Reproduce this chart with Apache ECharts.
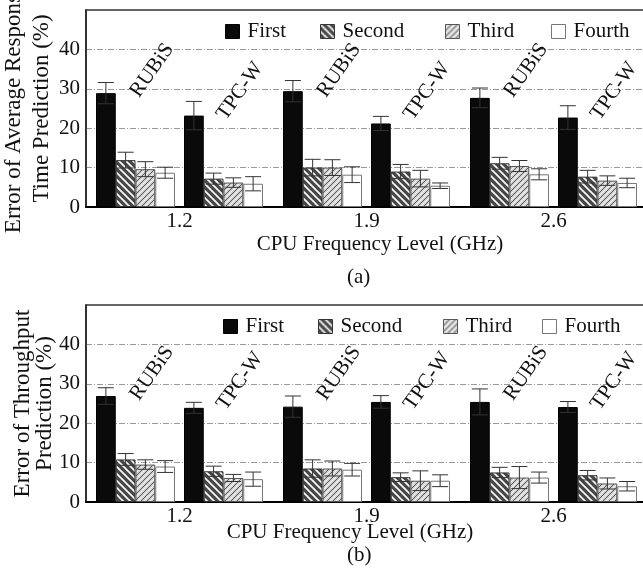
<!DOCTYPE html>
<html><head><meta charset="utf-8">
<script src="https://cdn.jsdelivr.net/npm/echarts@6/dist/echarts.min.js"></script>
<style>html,body{margin:0;padding:0;background:#fff}#c{width:643px;height:584px}</style>
</head><body><div id="c"></div>
<script>
// ---------------- DATA ----------------
const categories = ['1.2', '1.9', '2.6'];
const methods = ['First', 'Second', 'Third', 'Fourth'];
const benchmarks = ['RUBiS', 'TPC-W'];
const yTicks = [0, 10, 20, 30, 40];

// Panel (a): error of average response time prediction (%) — rows: methods, cols: categories
const rtRUBiS    = [[28.9, 29.4, 27.7], [11.9, 10.0, 11.1], [9.6, 10.0, 10.4], [8.7, 8.2, 8.3]];
const rtRUBiSErr = [[2.7, 2.7, 2.5], [2.0, 2.1, 1.5], [1.9, 2.0, 1.4], [1.4, 2.0, 1.4]];
const rtTPCW     = [[23.2, 21.2, 22.7], [7.2, 9.0, 7.7], [6.2, 7.2, 6.7], [5.9, 5.4, 6.1]];
const rtTPCWErr  = [[3.6, 1.8, 3.0], [1.4, 1.8, 1.6], [1.2, 2.1, 1.2], [1.8, 0.7, 1.2]];

// Panel (b): error of throughput prediction (%)
const tpRUBiS    = [[26.9, 24.2, 25.4], [10.8, 8.5, 7.5], [9.5, 8.5, 6.2], [9.0, 8.2, 6.2]];
const tpRUBiSErr = [[2.1, 2.7, 3.3], [1.5, 2.2, 1.3], [1.2, 1.9, 2.8], [1.5, 1.6, 1.4]];
const tpTPCW     = [[23.9, 25.4, 24.1], [7.8, 6.3, 6.8], [6.1, 5.4, 4.7], [5.8, 5.4, 4.0]];
const tpTPCWErr  = [[1.4, 1.6, 1.4], [1.3, 1.1, 1.2], [0.9, 2.5, 1.4], [1.8, 1.5, 1.2]];

// ---------------- STYLE / LAYOUT ----------------
const FONT = 'Liberation Serif';
const BAR_W = 19.75, GAP_W = 9, CAP_W = 16;
const slotWidths = [BAR_W, BAR_W, BAR_W, BAR_W, GAP_W, BAR_W, BAR_W, BAR_W, BAR_W];
const totalW = slotWidths.reduce((a, b) => a + b, 0);
function slotOffset(k) {
  let s = -totalW / 2;
  for (let i = 0; i < k; i++) s += slotWidths[i];
  return s + slotWidths[k] / 2;
}

function hatch(bg, lines, dir, size) {
  const cv = document.createElement('canvas');
  cv.width = size; cv.height = size;
  const ctx = cv.getContext('2d');
  ctx.fillStyle = bg; ctx.fillRect(0, 0, size, size);
  lines.forEach(l => {
    ctx.strokeStyle = l.color; ctx.lineWidth = l.width;
    for (let o = -size; o <= size; o += size) {
      ctx.beginPath();
      if (dir === '\\') { ctx.moveTo(o + l.shift - 1, -1); ctx.lineTo(o + l.shift + size + 1, size + 1); }
      else { ctx.moveTo(o + l.shift - 1, size + 1); ctx.lineTo(o + l.shift + size + 1, -1); }
      ctx.stroke();
    }
  });
  return cv;
}
const secondPat = hatch('#484848', [{color: '#ffffff', width: 1.6, shift: 0}], '\\', 7);
const thirdPat = hatch('#cfcfcf', [{color: '#5a5a5a', width: 1, shift: 0}, {color: '#ffffff', width: 1, shift: 3}], '/', 6);

const methodStyles = [
  {color: '#0a0a0a', borderColor: '#000', borderWidth: 1},
  {color: {image: secondPat, repeat: 'repeat'}, borderColor: '#333', borderWidth: 1},
  {color: {image: thirdPat, repeat: 'repeat'}, borderColor: '#555', borderWidth: 1},
  {color: '#ffffff', borderColor: '#777', borderWidth: 1}
];

const panels = [
  {top: 10, vals: [rtRUBiS, rtTPCW], errs: [rtRUBiSErr, rtTPCWErr],
   yName: 'Error of Average Response\nTime Prediction (%)', yNameGap: 30, yLineH: 28,
   xNameGap: 27, xNamePad: [0, 0, 0, 27], labelY: [34.7, 29.4],
   legendTop: 21, legendLeft: [225, 320, 445, 551], tag: '(a)', tagY: 278},
  {top: 305, vals: [tpRUBiS, tpTPCW], errs: [tpRUBiSErr, tpTPCWErr],
   yName: 'Error of Throughput\nPrediction (%)', yNameGap: 30.5, yLineH: 22,
   xNameGap: 20, xNamePad: [0, 33, 0, 0], labelY: [32.7, 30.7],
   legendTop: 316, legendLeft: [223, 318, 443, 542], tag: '(b)', tagY: 556}
];
const labelDx = [-27.5, 60.5];
const GRID_LEFT = 86, GRID_W = 561, GRID_H = 197;

// ---------------- BUILD ----------------
const grid = [], xAxis = [], yAxis = [], series = [], legend = [], graphic = [];
panels.forEach((p, g) => {
  grid.push({left: GRID_LEFT, top: p.top, width: GRID_W, height: GRID_H, show: true,
    containLabel: false, outerBoundsMode: 'none',
    borderColor: '#333', borderWidth: 1.5, backgroundColor: 'transparent'});
  xAxis.push({type: 'category', gridIndex: g, data: categories,
    axisLine: {lineStyle: {color: '#000', width: 2}}, axisTick: {show: false},
    axisLabel: {fontFamily: FONT, fontSize: 21, color: '#111', margin: 4},
    name: 'CPU Frequency Level (GHz)', nameLocation: 'middle', nameGap: p.xNameGap,
    nameMoveOverlap: false,
    nameTextStyle: {fontFamily: FONT, fontSize: 21, color: '#111', padding: p.xNamePad}});
  yAxis.push({type: 'value', gridIndex: g, min: 0, max: 50, interval: 10,
    axisLine: {show: true, lineStyle: {color: '#222', width: 1.5}}, axisTick: {show: false},
    axisLabel: {fontFamily: FONT, fontSize: 21, color: '#111', margin: 6,
      formatter: v => yTicks.includes(v) ? String(v) : ''},
    splitLine: {show: true, showMinLine: false, showMaxLine: false,
      lineStyle: {color: '#999', width: 1, type: [6, 2, 1, 2]}},
    name: p.yName, nameLocation: 'middle', nameRotate: 90, nameGap: p.yNameGap,
    nameMoveOverlap: false,
    nameTextStyle: {fontFamily: FONT, fontSize: 23, lineHeight: p.yLineH, color: '#111'}});

  const errData = [];
  benchmarks.forEach((b, bi) => {
    methods.forEach((m, mi) => {
      series.push({type: 'bar', name: m, xAxisIndex: g, yAxisIndex: g,
        barWidth: BAR_W, barGap: '0%', data: p.vals[bi][mi],
        itemStyle: methodStyles[mi], silent: true, emphasis: {disabled: true}});
      p.vals[bi][mi].forEach((v, ci) => errData.push([ci, v, p.errs[bi][mi][ci], bi * 5 + mi]));
    });
    if (bi === 0) {
      series.push({type: 'bar', name: 'spacer' + g, xAxisIndex: g, yAxisIndex: g,
        barWidth: GAP_W, barGap: '0%', data: categories.map(() => '-'), silent: true});
    }
  });

  series.push({type: 'custom', name: 'err' + g, xAxisIndex: g, yAxisIndex: g, silent: true, z: 5,
    data: errData,
    renderItem: (params, api) => {
      const c = api.value(0), v = api.value(1), e = api.value(2), k = api.value(3);
      const x = api.coord([c, v])[0] + slotOffset(k);
      const yHi = api.coord([c, v + e])[1], yLo = api.coord([c, v - e])[1];
      const st = {stroke: '#333', lineWidth: 1};
      return {type: 'group', children: [
        {type: 'line', shape: {x1: x, y1: yLo, x2: x, y2: yHi}, style: st},
        {type: 'line', shape: {x1: x - CAP_W / 2, y1: yHi, x2: x + CAP_W / 2, y2: yHi}, style: st},
        {type: 'line', shape: {x1: x - CAP_W / 2, y1: yLo, x2: x + CAP_W / 2, y2: yLo}, style: st}
      ]};
    }});

  const lblData = [];
  categories.forEach((c, ci) => benchmarks.forEach((b, bi) => lblData.push([ci, p.labelY[bi], bi])));
  series.push({type: 'custom', name: 'lbl' + g, xAxisIndex: g, yAxisIndex: g, silent: true, z: 6,
    data: lblData,
    renderItem: (params, api) => {
      const c = api.value(0), y = api.value(1), bi = api.value(2);
      const pt = api.coord([c, y]);
      return {type: 'text', x: pt[0] + labelDx[bi], y: pt[1], rotation: 55 * Math.PI / 180,
        style: {text: benchmarks[bi], font: '21px "' + FONT + '"', fill: '#111',
          align: 'center', verticalAlign: 'middle'}};
    }});

  methods.forEach((m, mi) => {
    legend.push({left: p.legendLeft[mi], top: p.legendTop, padding: 0, itemWidth: 14, itemHeight: 14,
      selectedMode: false, icon: 'rect',
      data: [{name: m, itemStyle: {borderColor: methodStyles[mi].borderColor, borderWidth: 1}}],
      textStyle: {fontFamily: FONT, fontSize: 21, color: '#111', padding: [0, 0, 0, 3]}});
  });

  graphic.push({type: 'text', left: 361 - 14, top: p.tagY - 11,
    style: {text: p.tag, font: '21px "' + FONT + '"', fill: '#111'}});
});

const chart = echarts.init(document.getElementById('c'), null, {renderer: 'canvas'});
chart.setOption({animation: false, grid, xAxis, yAxis, series, legend, graphic});
</script>
</body></html>
